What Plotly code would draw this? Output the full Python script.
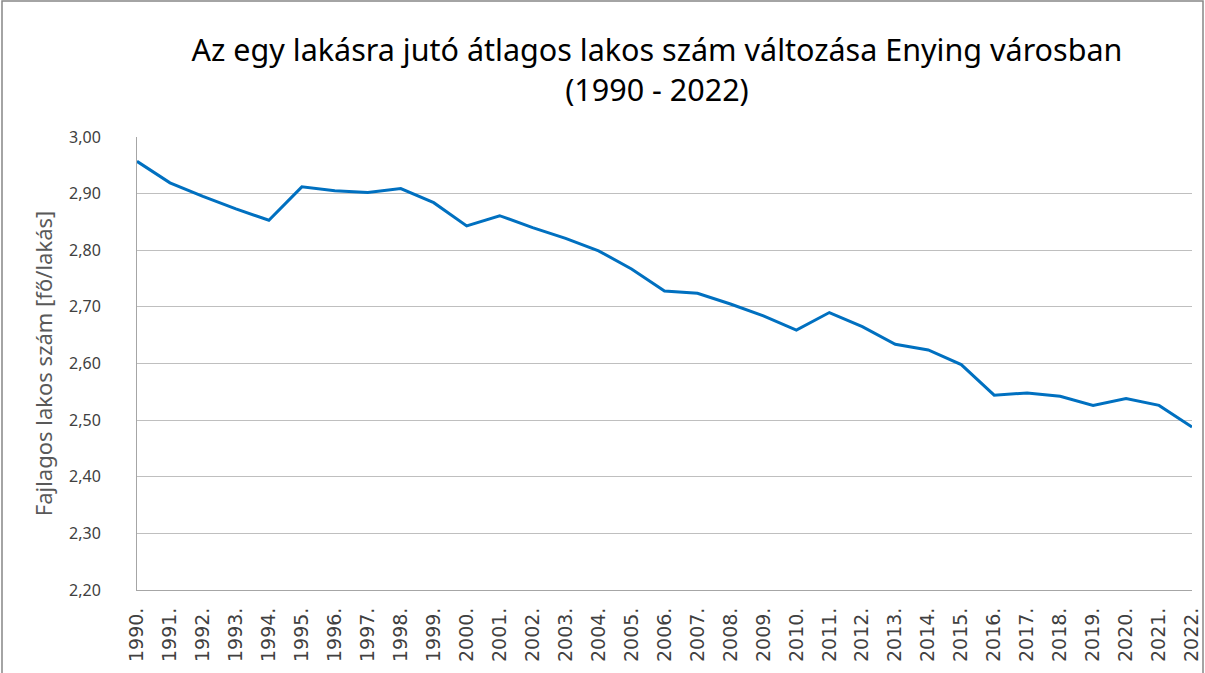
import plotly.graph_objects as go

years = [f"{y}." for y in range(1990, 2023)]
lakos = [2.957, 2.919, 2.895, 2.873, 2.853, 2.912, 2.905, 2.902, 2.909, 2.884,
         2.843, 2.861, 2.840, 2.821, 2.799, 2.767, 2.728, 2.724, 2.705, 2.684,
         2.659, 2.690, 2.665, 2.634, 2.624, 2.598, 2.544, 2.548, 2.542, 2.526,
         2.538, 2.526, 2.488]
y_ticks = [2.2, 2.3, 2.4, 2.5, 2.6, 2.7, 2.8, 2.9, 3.0]
y_ticktext = [f"{v:.2f}".replace(".", ",") for v in y_ticks]

W, H = 1205, 673
L, R, T, B = 137, 13, 137, 83
pw, ph = W - L - R, H - T - B

fig = go.Figure()
fig.add_trace(go.Scatter(x=years, y=lakos, mode='lines',
                         line=dict(color='#0070C0', width=3)))

fig.update_layout(
    width=W, height=H,
    margin=dict(l=L, r=R, t=T, b=B, autoexpand=False),
    paper_bgcolor='white', plot_bgcolor='white',
    showlegend=False,
    font=dict(family='Noto Sans', color='#595959'),
    title=dict(text='Az egy lakásra jutó átlagos lakos szám változása Enying városban<br>(1990 - 2022)',
               x=(657 / W), xanchor='center', y=1 - 61 / H, yanchor='middle',
               font=dict(size=30.5, color='#000000', family='Noto Sans')),
)
fig.update_xaxes(type='category', tickangle=-90, showgrid=False,
                 showline=True, linecolor='#A6A6A6', linewidth=1,
                 ticks='outside', ticklen=9, tickcolor='rgba(0,0,0,0)',
                 tickfont=dict(size=19, color='#404040', family='DejaVu Sans'))
fig.update_yaxes(range=[2.2, 3.0], tickvals=y_ticks, ticktext=y_ticktext,
                 showgrid=True, gridcolor='#BFBFBF', gridwidth=1,
                 showline=True, linecolor='#A6A6A6', linewidth=1,
                 ticks='outside', ticklen=18, tickcolor='rgba(0,0,0,0)',
                 ticklabelstandoff=14, zeroline=False,
                 tickfont=dict(size=16, color='#404040'),
                 title=dict(text='Fajlagos lakos szám [fő/lakás]', standoff=10,
                            font=dict(size=22, color='#595959')))

# outer chart border
fig.add_shape(type='rect', xref='paper', yref='paper',
              x0=(2 - L) / pw, x1=(W - 2 - L) / pw,
              y0=(H - B - (H + 5)) / ph, y1=(H - B - 1) / ph,
              line=dict(color='#878787', width=1.5), layer='below')

fig.write_html("out.html", config={'displayModeBar': False},
               post_script="document.body.style.margin='0px';")
